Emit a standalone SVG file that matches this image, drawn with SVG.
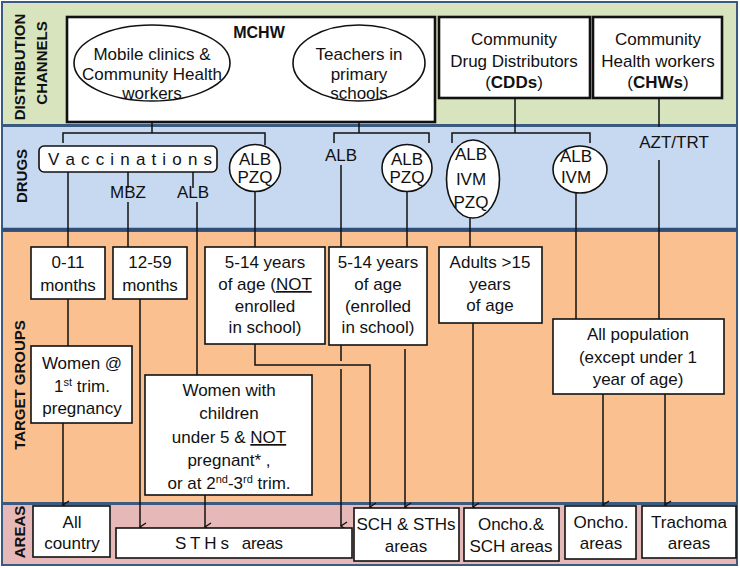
<svg xmlns="http://www.w3.org/2000/svg" width="740" height="568" viewBox="0 0 740 568">
<defs>
<marker id="ah" markerWidth="10" markerHeight="10" refX="5" refY="7" orient="auto-start-reverse" markerUnits="userSpaceOnUse" viewBox="0 0 10 10">
<path d="M1,1 L5,7 L9,1" fill="none" stroke="#111" stroke-width="1.4"/>
</marker>
<style>
text{font-family:"Liberation Sans",Arial,sans-serif;font-size:17px;fill:#111;text-anchor:middle}
.lbl{font-weight:bold;font-size:15px}
.b{font-weight:bold}
.band{stroke:#3b5a80;stroke-width:2}
.box{fill:#fff;stroke:#111;stroke-width:1.6}
.thick{fill:#fff;stroke:#111;stroke-width:2.6}
.ln{fill:none;stroke:#111;stroke-width:1.5}
.arr{fill:none;stroke:#111;stroke-width:1.5;marker-end:url(#ah)}
.u{text-decoration:underline}
.sup{font-size:11px}
</style>
</defs>
<g id="bands">
<rect class="band" x="2" y="2" width="735" height="123" fill="#d7e4bd"/>
<rect class="band" x="2" y="126" width="735" height="103" fill="#c6d9f1"/>
<rect class="band" x="2" y="231" width="735" height="272" fill="#fac090"/>
<line x1="2" y1="229.5" x2="737" y2="229.5" stroke="#2f4f78" stroke-width="3.5"/>
<rect class="band" x="2" y="504" width="735" height="61" fill="#e6b9b8"/>
<text class="lbl" transform="translate(25,67) rotate(-90)">DISTRIBUTION</text>
<text class="lbl" transform="translate(47,63) rotate(-90)">CHANNELS</text>
<text class="lbl" transform="translate(27,176) rotate(-90)">DRUGS</text>
<text class="lbl" transform="translate(25,385) rotate(-90)">TARGET GROUPS</text>
<text class="lbl" transform="translate(25,532) rotate(-90)">AREAS</text>
</g>
<g id="connectors">
<polyline class="ln" points="152,102 152,133"/>
<polyline class="ln" points="63,143 63,133 265,133 265,145"/>
<polyline class="ln" points="359,102 359,133"/>
<polyline class="ln" points="334,143 334,133 429,133 429,143"/>
<polyline class="ln" points="515,98 515,133"/>
<polyline class="ln" points="452,143 452,133 590,133 590,143"/>
<polyline class="ln" points="659,98 659,127"/>
<polyline class="ln" points="68,172 68,247"/>
<polyline class="ln" points="128,172 128,188"/>
<polyline class="ln" points="193,172 193,188"/>
<polyline class="ln" points="128,202 128,247"/>
<polyline class="ln" points="197,202 197,375"/>
<polyline class="ln" points="255,192 255,247"/>
<polyline class="ln" points="341,165 341,361"/>
<polyline class="arr" points="341,369 341,526"/>
<polyline class="ln" points="407,192 407,247"/>
<polyline class="ln" points="470,218 470,247"/>
<polyline class="ln" points="576,193 576,319"/>
<polyline class="ln" points="659,160 659,319"/>
<polyline class="ln" points="68,299 68,346"/>
<polyline class="arr" points="63,423 63,505"/>
<polyline class="arr" points="140,299 140,527"/>
<polyline class="arr" points="205,495 205,527"/>
<polyline class="arr" points="255,344 255,365 370,365 370,507"/>
<polyline class="arr" points="405,349 405,507"/>
<polyline class="arr" points="473,323 473,507"/>
<polyline class="arr" points="603,394 603,505"/>
<polyline class="arr" points="665,394 665,505"/>
</g>
<g id="mchw">
<rect class="thick" x="67" y="17" width="368" height="105"/>
<text class="b" x="259" y="38" style="font-size:16px">MCHW</text>
</g>
<g id="mobile-clinics">
<ellipse class="box" cx="152" cy="63" rx="78" ry="38"/>
<text x="152" y="60">Mobile clinics &amp;</text>
<text x="152" y="80">Community Health</text>
<text x="152" y="99">workers</text>
</g>
<g id="teachers">
<ellipse class="box" cx="359" cy="63" rx="66" ry="38"/>
<text x="359" y="60">Teachers in</text>
<text x="359" y="80">primary</text>
<text x="359" y="99">schools</text>
</g>
<g id="cdds">
<rect class="thick" x="439" y="17" width="151" height="81"/>
<text x="514" y="45">Community</text>
<text x="514" y="67">Drug Distributors</text>
<text x="514" y="88">(<tspan class="b">CDDs</tspan>)</text>
</g>
<g id="chws">
<rect class="thick" x="593" y="17" width="129" height="81"/>
<text x="658" y="45">Community</text>
<text x="658" y="67">Health workers</text>
<text x="658" y="88">(<tspan class="b">CHWs</tspan>)</text>
</g>
<g id="vaccinations">
<rect class="box" x="39" y="146" width="178" height="26" rx="5"/>
<text x="130" y="165" textLength="164" lengthAdjust="spacing">V a c c i n a t i o n s</text>
</g>
<g id="mbz"><text x="128" y="198">MBZ</text></g>
<g id="alb-1"><text x="193" y="198">ALB</text></g>
<g id="alb-pzq-1">
<ellipse class="box" cx="255" cy="168" rx="25.5" ry="23.5"/>
<text x="255" y="165">ALB</text>
<text x="255" y="183">PZQ</text>
</g>
<g id="alb-2"><text x="341" y="161">ALB</text></g>
<g id="alb-pzq-2">
<ellipse class="box" cx="407" cy="168" rx="25" ry="23.5"/>
<text x="407" y="165">ALB</text>
<text x="407" y="183">PZQ</text>
</g>
<g id="alb-ivm-pzq">
<ellipse class="box" cx="473" cy="179" rx="26.5" ry="39"/>
<text x="471" y="160">ALB</text>
<text x="471" y="185">IVM</text>
<text x="471" y="208">PZQ</text>
</g>
<g id="alb-ivm">
<ellipse class="box" cx="580" cy="169.5" rx="27" ry="23.5"/>
<text x="576" y="162">ALB</text>
<text x="576" y="183">IVM</text>
</g>
<g id="azt-trt"><text x="674" y="148">AZT/TRT</text></g>
<g id="age-0-11">
<rect class="box" x="31" y="247" width="74" height="52"/>
<text x="68" y="268">0-11</text>
<text x="68" y="291">months</text>
</g>
<g id="age-12-59">
<rect class="box" x="113" y="247" width="74" height="52"/>
<text x="150" y="268">12-59</text>
<text x="150" y="291">months</text>
</g>
<g id="age-5-14-not">
<rect class="box" x="205" y="247" width="120" height="97"/>
<text x="265" y="268">5-14 years</text>
<text x="265" y="290">of age (<tspan class="u">NOT</tspan></text>
<text x="265" y="312">enrolled</text>
<text x="265" y="333">in school)</text>
</g>
<g id="age-5-14-enrolled">
<rect class="box" x="329" y="247" width="98" height="98"/>
<text x="378" y="268">5-14 years</text>
<text x="378" y="290">of age</text>
<text x="378" y="312">(enrolled</text>
<text x="378" y="333">in school)</text>
</g>
<g id="adults">
<rect class="box" x="439" y="247" width="103" height="76"/>
<text x="490" y="268">Adults &gt;15</text>
<text x="490" y="290">years</text>
<text x="490" y="311">of age</text>
</g>
<g id="all-population">
<rect class="box" x="553" y="319" width="171" height="75"/>
<text x="638" y="340">All population</text>
<text x="638" y="363">(except under 1</text>
<text x="638" y="385">year of age)</text>
</g>
<g id="women-1st-trim">
<rect class="box" x="31" y="346" width="101" height="77"/>
<text x="82" y="369">Women @</text>
<text x="82" y="392">1<tspan class="sup" dy="-6">st</tspan><tspan dy="6">  trim.</tspan></text>
<text x="82" y="414">pregnancy</text>
</g>
<g id="women-children">
<rect class="box" x="145" y="375" width="167" height="120"/>
<text x="229" y="396">Women with</text>
<text x="229" y="419">children</text>
<text x="229" y="443">under 5 &amp; <tspan class="u">NOT</tspan></text>
<text x="229" y="466">pregnant* ,</text>
<text x="229" y="489">or at 2<tspan class="sup" dy="-6">nd</tspan><tspan dy="6">-3</tspan><tspan class="sup" dy="-6">rd</tspan><tspan dy="6"> trim.</tspan></text>
</g>
<g id="all-country">
<rect class="box" x="33" y="506" width="77" height="51"/>
<text x="72" y="528">All</text>
<text x="72" y="549">country</text>
</g>
<g id="sths-areas">
<rect class="box" x="116" y="528" width="236" height="30"/>
<text x="229" y="549" textLength="108" lengthAdjust="spacing" xml:space="preserve">S T H s   areas</text>
</g>
<g id="sch-sths-areas">
<rect class="box" x="354" y="508" width="105" height="53"/>
<text x="406" y="530">SCH &amp; STHs</text>
<text x="406" y="552">areas</text>
</g>
<g id="oncho-sch-areas">
<rect class="box" x="464" y="508" width="95" height="53"/>
<text x="511" y="530">Oncho.&amp;</text>
<text x="511" y="552">SCH areas</text>
</g>
<g id="oncho-areas">
<rect class="box" x="565" y="506" width="71" height="53"/>
<text x="601" y="528">Oncho.</text>
<text x="601" y="549">areas</text>
</g>
<g id="trachoma-areas">
<rect class="box" x="642" y="506" width="94" height="52"/>
<text x="689" y="528">Trachoma</text>
<text x="689" y="549">areas</text>
</g>
</svg>
